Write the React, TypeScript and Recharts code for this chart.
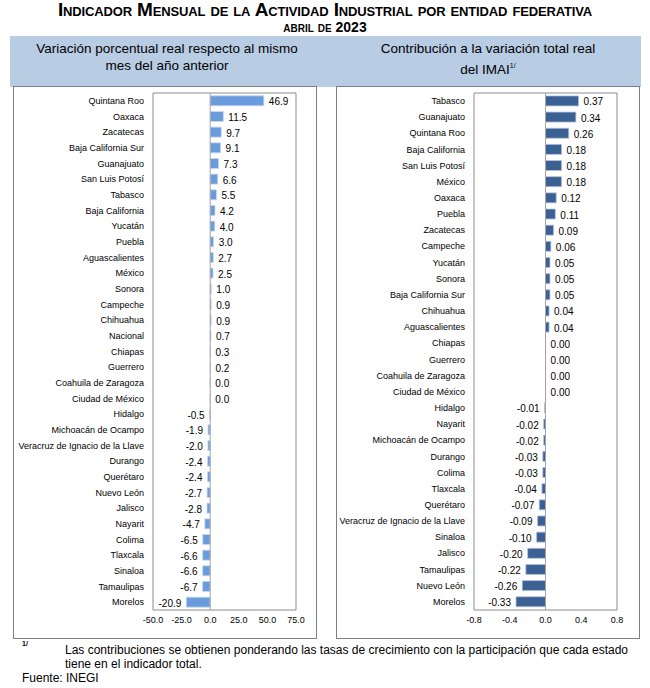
import React from 'react';
import { BarChart, Bar, XAxis, YAxis, Cell, LabelList, ReferenceLine, ReferenceArea } from 'recharts';

// variación porcentual anual por entidad
const estadosVar = [
  'Quintana Roo', 'Oaxaca', 'Zacatecas', 'Baja California Sur', 'Guanajuato', 'San Luis Potosí',
  'Tabasco', 'Baja California', 'Yucatán', 'Puebla', 'Aguascalientes', 'México', 'Sonora',
  'Campeche', 'Chihuahua', 'Nacional', 'Chiapas', 'Guerrero', 'Coahuila de Zaragoza',
  'Ciudad de México', 'Hidalgo', 'Michoacán de Ocampo', 'Veracruz de Ignacio de la Llave',
  'Durango', 'Querétaro', 'Nuevo León', 'Jalisco', 'Nayarit', 'Colima', 'Tlaxcala', 'Sinaloa',
  'Tamaulipas', 'Morelos',
];
const valoresVar = [
  46.9, 11.5, 9.7, 9.1, 7.3, 6.6, 5.5, 4.2, 4.0, 3.0, 2.7, 2.5, 1.0, 0.9, 0.9, 0.7, 0.3, 0.2,
  0.0, 0.0, -0.5, -1.9, -2.0, -2.4, -2.4, -2.7, -2.8, -4.7, -6.5, -6.6, -6.6, -6.7, -20.9,
];
const ticksVar = [-50, -25, 0, 25, 50, 75];

// contribución a la variación total del IMAI
const estadosCont = [
  'Tabasco', 'Guanajuato', 'Quintana Roo', 'Baja California', 'San Luis Potosí', 'México',
  'Oaxaca', 'Puebla', 'Zacatecas', 'Campeche', 'Yucatán', 'Sonora', 'Baja California Sur',
  'Chihuahua', 'Aguascalientes', 'Chiapas', 'Guerrero', 'Coahuila de Zaragoza',
  'Ciudad de México', 'Hidalgo', 'Nayarit', 'Michoacán de Ocampo', 'Durango', 'Colima',
  'Tlaxcala', 'Querétaro', 'Veracruz de Ignacio de la Llave', 'Sinaloa', 'Jalisco',
  'Tamaulipas', 'Nuevo León', 'Morelos',
];
const valoresCont = [
  0.37, 0.34, 0.26, 0.18, 0.18, 0.18, 0.12, 0.11, 0.09, 0.06, 0.05, 0.05, 0.05, 0.04, 0.04,
  0.0, 0.0, 0.0, 0.0, -0.01, -0.02, -0.02, -0.03, -0.03, -0.04, -0.07, -0.09, -0.10, -0.20,
  -0.22, -0.26, -0.33,
];
const ticksCont = [-0.8, -0.4, 0, 0.4, 0.8];

const FONT = '"Liberation Sans", Arial, sans-serif';

const dataVar = estadosVar.map((name, i) => ({ name, value: valoresVar[i] }));
const dataCont = estadosCont.map((name, i) => ({ name, value: valoresCont[i] }));

// etiqueta a la derecha si es positivo, a la izquierda si es negativo
const makeLabel = (decimals: number) => (props: any) => {
  const { x, y, width, height, value } = props;
  const end = x + width;
  const neg = value < 0;
  return (
    <text
      x={neg ? Math.min(end, x) - 5 : Math.max(end, x) + 5}
      y={y + height / 2 + 1}
      textAnchor={neg ? 'end' : 'start'}
      dominantBaseline="central"
      fontSize={10}
      fontFamily={FONT}
      fill="#000"
    >
      {Number(value).toFixed(decimals)}
    </text>
  );
};

// nombres sin salto de línea
const StateTick = (props: any) => {
  const { x, y, payload } = props;
  return (
    <text x={x} y={y} textAnchor="end" dominantBaseline="central" fontSize={9} fontFamily={FONT} fill="#000">
      {payload.value}
    </text>
  );
};

type PanelProps = {
  data: { name: string; value: number }[];
  domain: [number, number];
  ticks: number[];
  decimals: number;
  color: string;
  stroke: string;
  yWidth: number;
  right: number;
};

function Panel({ data, domain, ticks, decimals, color, stroke, yWidth, right }: PanelProps) {
  return (
    <BarChart
      width={304}
      height={552}
      data={data}
      layout="vertical"
      margin={{ top: 5, right, bottom: 0, left: 0 }}
      barCategoryGap="18%"
    >
      <ReferenceArea x1={domain[0]} x2={domain[1]} fill="none" stroke="#8c8c8c" strokeWidth={1} />
      <XAxis
        type="number"
        domain={domain}
        ticks={ticks}
        tickFormatter={(v: number) => v.toFixed(1)}
        axisLine={false}
        tickLine={false}
        tickSize={0}
        tickMargin={7}
        height={30}
        interval={0}
        tick={{ fontSize: 9, fill: '#000', fontFamily: FONT }}
      />
      <YAxis
        type="category"
        dataKey="name"
        width={yWidth}
        axisLine={false}
        tickLine={false}
        tickSize={0}
        tickMargin={9}
        interval={0}
        tick={<StateTick />}
      />
      <ReferenceLine x={0} stroke="#a6a6a6" />
      <Bar dataKey="value" fill={color} stroke={stroke} strokeWidth={0.8} minPointSize={0.1} isAnimationActive={false}>
        {data.map((d, i) => (
          <Cell key={i} fill={d.name === 'Nacional' ? '#1f3864' : color} />
        ))}
        <LabelList dataKey="value" content={makeLabel(decimals)} />
      </Bar>
    </BarChart>
  );
}

export default function App() {
  const box: React.CSSProperties = {
    position: 'absolute',
    top: 86,
    width: 304,
    height: 553,
    border: '1.5px solid #7f7f7f',
    boxSizing: 'border-box',
  };
  const head: React.CSSProperties = {
    position: 'absolute',
    top: 40,
    width: 310,
    textAlign: 'center',
    fontSize: 13.5,
    lineHeight: '17px',
    color: '#000',
  };
  return (
    <div style={{ position: 'absolute', left: 0, top: 0, width: 650, height: 688, background: '#fff', fontFamily: FONT }}>
      <div style={{ position: 'absolute', left: 0, top: 0, width: 650, textAlign: 'center', fontWeight: 'bold', fontSize: 19, fontVariant: 'small-caps', color: '#000', lineHeight: '20px', letterSpacing: -0.15 }}>
        Indicador Mensual de la Actividad Industrial por entidad federativa
      </div>
      <div style={{ position: 'absolute', left: 0, top: 19, width: 650, textAlign: 'center', fontWeight: 'bold', fontSize: 14, fontVariant: 'small-caps', color: '#000', lineHeight: '17px' }}>
        abril de 2023
      </div>

      <div style={{ position: 'absolute', left: 10, top: 36, width: 631, height: 51, background: '#b8cce4' }} />
      <div style={{ ...head, left: 12 }}>
        Variación porcentual real respecto al mismo<br />mes del año anterior
      </div>
      <div style={{ ...head, left: 333 }}>
        Contribución a la variación total real<br />del IMAI<sup style={{ fontSize: 7 }}>1/</sup>
      </div>

      <div style={{ ...box, left: 13 }} />
      <div style={{ ...box, left: 336 }} />

      <div style={{ position: 'absolute', left: 14, top: 88 }}>
        <Panel data={dataVar} domain={[-50, 75]} ticks={ticksVar} decimals={1} color="#6a9bdc" stroke="#c9d9f0" yWidth={139} right={22} />
      </div>
      <div style={{ position: 'absolute', left: 336, top: 88 }}>
        <Panel data={dataCont} domain={[-0.8, 0.8]} ticks={ticksCont} decimals={2} color="#3b6093" stroke="#b4c3d8" yWidth={138} right={23} />
      </div>

      <div style={{ position: 'absolute', left: 22, top: 640, fontSize: 7, fontWeight: 'bold' }}>1/</div>
      <div style={{ position: 'absolute', left: 65, top: 643, width: 570, fontSize: 12, lineHeight: '14px', color: '#000' }}>
        Las contribuciones se obtienen ponderando las tasas de crecimiento con la participación que cada estado tiene en el indicador total.
      </div>
      <div style={{ position: 'absolute', left: 22, top: 671, fontSize: 12, lineHeight: '14px', color: '#000' }}>
        Fuente: INEGI
      </div>
    </div>
  );
}
